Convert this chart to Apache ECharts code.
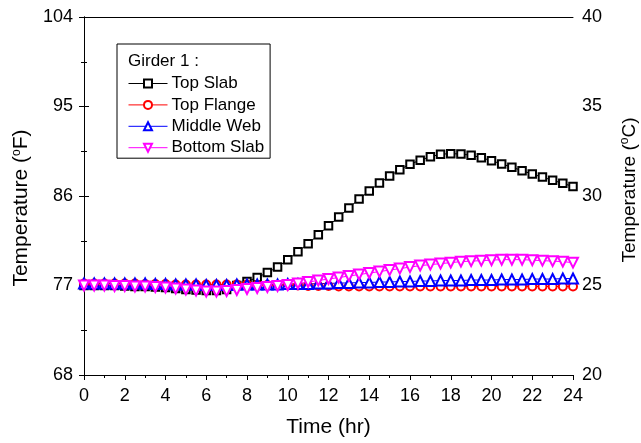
<!DOCTYPE html>
<html>
<head>
<meta charset="utf-8">
<script src="https://cdn.jsdelivr.net/npm/echarts@6/dist/echarts.min.js"></script>
<style>html,body{margin:0;padding:0;background:#fff;}#c{width:641px;height:443px;}</style>
</head>
<body>
<div id="c"></div>
<script>
const times = [0,0.5,1,1.5,2,2.5,3,3.5,4,4.5,5,5.5,6,6.5,7,7.5,8,8.5,9,9.5,10,10.5,11,11.5,12,12.5,13,13.5,14,14.5,15,15.5,16,16.5,17,17.5,18,18.5,19,19.5,20,20.5,21,21.5,22,22.5,23,23.5,24];
const topSlab = [77.0,77.0,77.0,77.0,76.95,76.9,76.9,76.85,76.8,76.7,76.6,76.55,76.5,76.5,76.6,77.0,77.4,
  77.8,78.3,78.85,79.6,80.4,81.2,82.1,83.0,83.9,84.8,85.7,86.5,
  87.3,88.0,88.65,89.2,89.6,89.95,90.2,90.26,90.22,90.1,89.85,89.55,89.22,88.9,88.55,88.2,87.9,87.58,87.28,86.95];
const topFlange = [77.2,77.2,77.2,77.2,77.2,77.2,77.15,77.15,77.15,77.1,77.1,77.1,77.1,77.1,77.1,77.1,77.1,
  77.05,77.05,77.0,77.0,77.0,76.95,76.95,76.95,76.9,76.9,76.9,76.9,
  76.9,76.9,76.9,76.9,76.9,76.9,76.9,76.9,76.9,76.9,76.9,76.9,76.9,76.9,76.9,76.9,76.9,76.9,76.9,76.9];
const middleWeb = [77.2,77.2,77.2,77.2,77.2,77.2,77.2,77.15,77.15,77.1,77.1,77.1,77.05,77.05,77.05,77.1,77.1,
  77.1,77.1,77.1,77.15,77.15,77.15,77.2,77.2,77.25,77.25,77.3,77.3,
  77.35,77.35,77.4,77.4,77.45,77.45,77.5,77.5,77.5,77.55,77.55,77.55,77.6,77.6,77.6,77.65,77.65,77.65,77.7,77.7];
const bottomSlab = [77.0,77.0,77.0,76.95,76.95,76.9,76.9,76.85,76.8,76.7,76.6,76.5,76.4,76.4,76.45,76.55,76.65,
  76.75,76.85,76.95,77.05,77.2,77.35,77.5,77.65,77.8,77.95,78.1,78.25,
  78.4,78.55,78.7,78.85,79.0,79.1,79.2,79.3,79.4,79.45,79.5,79.55,79.6,79.6,79.6,79.55,79.5,79.45,79.4,79.3];
const seriesNames = ['Top Slab','Top Flange','Middle Web','Bottom Slab'];
const legendTitle = 'Girder 1 :';
const xTicks = {min:0, max:24, interval:2};
const fTicks = {min:68, max:104, interval:9};
const cTicks = {min:20, max:40, interval:5};

const FONT = 'Liberation Sans, Arial, sans-serif';
function pairs(arr){ return times.map((t,i)=>[t,arr[i]]); }
const chart = echarts.init(document.getElementById('c'), null, {renderer:'canvas'});
const axisCommon = {
  axisLine:{show:true, lineStyle:{color:'#000', width:1}},
  axisTick:{show:true, inside:false, length:5, lineStyle:{color:'#000', width:1}},
  minorTick:{show:true, splitNumber:2, length:3, lineStyle:{color:'#000', width:1}},
  splitLine:{show:false},
  axisLabel:{color:'#000', fontFamily:FONT, fontSize:18}
};
const supRich = {sup:{fontSize:12, verticalAlign:'top', padding:[0,0,10,0], fontFamily:FONT, color:'#000'}};
function mk(name, data, symbol, color, size, rot){
  return {name, type:'line', data:pairs(data), symbol, symbolSize:size, symbolRotate:rot||0,
    showSymbol:true, lineStyle:{color, width:1}, itemStyle:{color, borderColor:color, borderWidth:1},
    emphasis:{disabled:true}, animation:false, z: 2};
}
chart.setOption({
  animation:false,
  backgroundColor:'#fff',
  grid:{left:84, right:68, top:17, bottom:68, containLabel:false, outerBoundsMode:'none', show:false},
  xAxis:[Object.assign({}, axisCommon, {type:'value', min:xTicks.min, max:xTicks.max, interval:xTicks.interval,
    name:'Time (hr)', nameLocation:'middle', nameGap:42,
    nameTextStyle:{color:'#000', fontFamily:FONT, fontSize:21},
    axisLabel:Object.assign({}, axisCommon.axisLabel, {margin:12})}),
    {type:'value', position:'top', min:0, max:24, interval:2, axisLine:{show:true, lineStyle:{color:'#000'}}, axisTick:{show:false}, axisLabel:{show:false}, splitLine:{show:false}}],
  yAxis:[Object.assign({}, axisCommon, {type:'value', position:'left', min:fTicks.min, max:fTicks.max, interval:fTicks.interval,
      name:'Temperature ({sup|o}F)', nameLocation:'middle', nameGap:50, nameRotate:90,
      nameTextStyle:{color:'#000', fontFamily:FONT, fontSize:21, padding:[0,24,0,0], rich:supRich},
      axisLabel:Object.assign({}, axisCommon.axisLabel, {margin:11})}),
    Object.assign({}, axisCommon, {type:'value', position:'right', min:cTicks.min, max:cTicks.max, interval:cTicks.interval,
      name:'Temperature ({sup|o}C)', nameLocation:'middle', nameGap:46, nameRotate:90,
      nameTextStyle:{color:'#000', fontFamily:FONT, fontSize:19, padding:[0,0,0,12], rich:supRich},
      axisLabel:Object.assign({}, axisCommon.axisLabel, {margin:9})})],
  legend:{
    show:true, orient:'vertical', left:117, top:44,
    data:seriesNames,
    borderColor:'#000', borderWidth:1, padding:[31,6,2,11],
    itemWidth:39, itemHeight:10, itemGap:4.4,
    lineStyle:{width:1},
    textStyle:{color:'#000', fontFamily:FONT, fontSize:17, padding:[0,0,0,-1]},
    selectedMode:false
  },
  graphic:[{type:'text', left:128, top:53, style:{text:legendTitle, font:'17px '+FONT, fill:'#000'}}],
  series:[
    mk(seriesNames[0], topSlab, 'emptyRect', '#000000', 7.5),
    mk(seriesNames[1], topFlange, 'emptyCircle', '#ff0000', 8),
    mk(seriesNames[2], middleWeb, 'emptyTriangle', '#0000ff', 10),
    mk(seriesNames[3], bottomSlab, 'emptyTriangle', '#ff00ff', 10, 180)
  ]
});
</script>
</body>
</html>
